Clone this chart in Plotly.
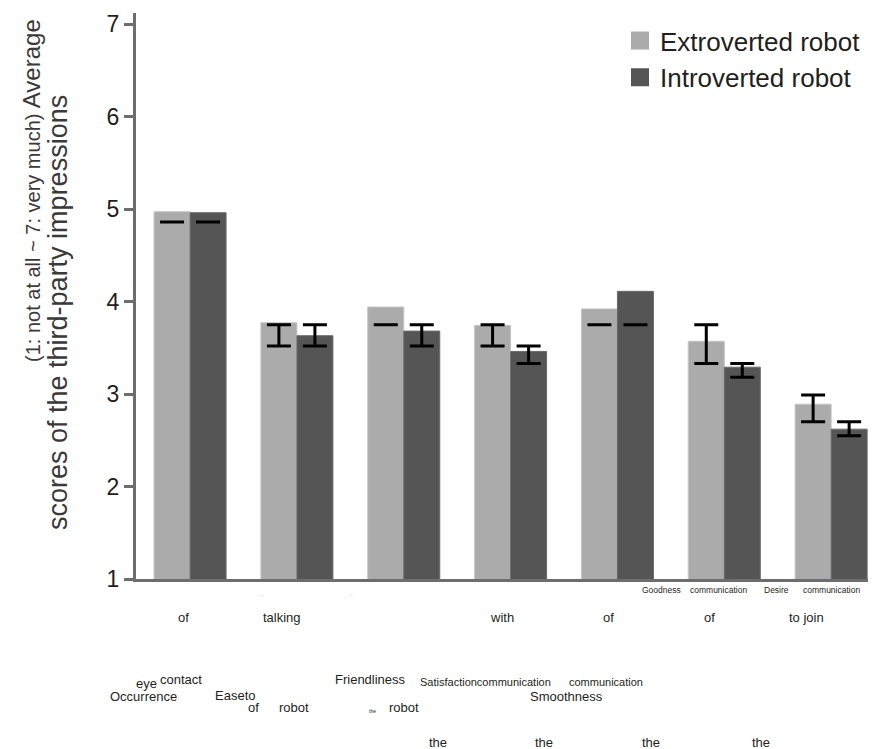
import plotly.graph_objects as go

# ---------------- data ----------------
categories = [
    "Occurrence of eye contact",
    "Ease of talking to the robot",
    "Friendliness of the robot",
    "Satisfaction with the communication",
    "Smoothness of the communication",
    "Goodness of the communication",
    "Desire to join the communication",
]
extroverted = [4.97, 3.77, 3.94, 3.74, 3.92, 3.57, 2.89]
introverted = [4.96, 3.63, 3.68, 3.46, 4.11, 3.29, 2.62]

ext_err_lo = [4.86, 3.52, 3.75, 3.52, 3.75, 3.33, 2.70]
ext_err_hi = [4.86, 3.75, 3.75, 3.75, 3.75, 3.75, 2.99]
int_err_lo = [4.86, 3.52, 3.52, 3.33, 3.75, 3.18, 2.55]
int_err_hi = [4.86, 3.75, 3.75, 3.52, 3.75, 3.33, 2.70]

series_names = ["Extroverted robot", "Introverted robot"]
y_ticks = [1, 2, 3, 4, 5, 6, 7]

# scattered pieces of the category labels (text only)
label_fragments = [
    "of", "talking", "with", "of", "of", "to join",
    "eye", "contact", "Occurrence", "Easeto", "of", "robot",
    "Friendliness", "the", "robot", "Satisfactioncommunication",
    "communication", "Smoothness",
    "the", "the", "the", "the",
    "Goodness", "communication", "Desire", "communication",
    "-", "-",
]
# placement (page pixel centre x, centre y, font size) for each fragment
fragment_layout = [
    (183, 617, 13), (282, 617, 13), (502, 617, 13), (608, 617, 13), (709, 617, 13), (806, 617, 13),
    (146, 683, 13), (181, 679, 13), (143, 696, 13), (235, 695, 13), (253, 707, 13), (294, 707, 13),
    (370, 679, 13), (372, 711, 5), (404, 707, 13), (485, 682, 11),
    (606, 682, 11), (566, 696, 13),
    (438, 742, 13), (544, 742, 13), (651, 742, 13), (761, 742, 13),
    (661, 590, 8.5), (718, 590, 8.5), (776, 590, 8.5), (831, 590, 8.5),
    (262, 594, 4), (352, 594, 4),
]

# ---------------- figure ----------------
OFF = 8                      # page body margin in the browser
W, H = 876 - OFF, 749 - OFF
ML, MR, MT, MB = 136 - OFF, 0, 13 - OFF, 170
PW, PH = W - ML - MR, H - MT - MB

def px_to_paper(px, py):
    fx, fy = px - OFF, py - OFF
    return (fx - ML) / PW, (H - MB - fy) / PH

light = "#ababab"
dark = "#555555"
txt = "#231f20"
font_main = "Liberation Sans, Arial"

fig = go.Figure()
fig.add_trace(go.Bar(x=categories, y=extroverted, name=series_names[0],
                     marker=dict(color=light, line=dict(color="#c4c4c4", width=1)),
                     offsetgroup="e", alignmentgroup="a", showlegend=False))
fig.add_trace(go.Bar(x=categories, y=introverted, name=series_names[1],
                     marker=dict(color=dark, line=dict(color="#6a6a6a", width=1)),
                     offsetgroup="i", alignmentgroup="a", showlegend=False))

for lo, hi, grp in [(ext_err_lo, ext_err_hi, "e"), (int_err_lo, int_err_hi, "i")]:
    mid = [(a + b) / 2 for a, b in zip(lo, hi)]
    half = [(b - a) / 2 for a, b in zip(lo, hi)]
    fig.add_trace(go.Scatter(x=categories, y=mid, mode="markers",
                             marker=dict(size=1, opacity=0),
                             error_y=dict(type="data", array=half, visible=True,
                                          color="black", thickness=3, width=12),
                             offsetgroup=grp, alignmentgroup="a",
                             showlegend=False, hoverinfo="skip"))

# legend entries (square swatches)
for name, col, grp in [(series_names[0], light, "e"), (series_names[1], dark, "i")]:
    fig.add_trace(go.Scatter(x=[None], y=[None], mode="markers", name=name,
                             marker=dict(symbol="square", size=16, color=col,
                                         line=dict(color=col, width=2)),
                             offsetgroup=grp, alignmentgroup="a", showlegend=True))

annotations = []
for text, (px, py, size) in zip(label_fragments, fragment_layout):
    xp, yp = px_to_paper(px, py)
    annotations.append(dict(text=text, x=xp, y=yp, xref="paper", yref="paper",
                            xanchor="center", yanchor="middle", showarrow=False,
                            font=dict(family=font_main, size=size, color=txt)))

# y-axis title (two rotated lines)
xp, yp = px_to_paper(31, 191)
annotations.append(dict(
    text='<span style="font-size:20px">(1: not at all ~ 7: very much)</span> Average',
    x=xp, y=yp, xref="paper", yref="paper", textangle=-90,
    xanchor="center", yanchor="middle", showarrow=False,
    font=dict(family=font_main, size=24, color="#3a3a3a")))
xp, yp = px_to_paper(58, 313)
annotations.append(dict(
    text="scores of the third-party impressions",
    x=xp, y=yp, xref="paper", yref="paper", textangle=-90,
    xanchor="center", yanchor="middle", showarrow=False,
    font=dict(family=font_main, size=27, color="#3a3a3a")))

lx, ly = px_to_paper(620, 17)
fig.update_layout(
    width=W, height=H,
    margin=dict(l=ML, r=MR, t=MT, b=MB),
    paper_bgcolor="white", plot_bgcolor="white",
    barmode="group", bargap=0.326, bargroupgap=0,
    scattermode="group",
    showlegend=True,
    legend=dict(x=lx, y=ly, xanchor="left", yanchor="top",
                font=dict(family=font_main, size=26, color=txt),
                bgcolor="rgba(0,0,0,0)", tracegroupgap=0),
    xaxis=dict(type="category", range=[-0.506, 6.42], showticklabels=False,
               showline=True, linecolor="#6d6d6d", linewidth=3, ticks="",
               showgrid=False, zeroline=False, fixedrange=True),
    yaxis=dict(range=[1, 1 + PH / 92.5], tickvals=y_ticks,
               showline=True, linecolor="#6d6d6d", linewidth=3,
               ticks="outside", ticklen=9, tickwidth=3, tickcolor="#6d6d6d",
               tickfont=dict(family="Liberation Sans Narrow, Liberation Sans, Arial", size=23, color=txt),
               showgrid=False, zeroline=False),
    annotations=annotations,
)

fig.write_html("out.html")
